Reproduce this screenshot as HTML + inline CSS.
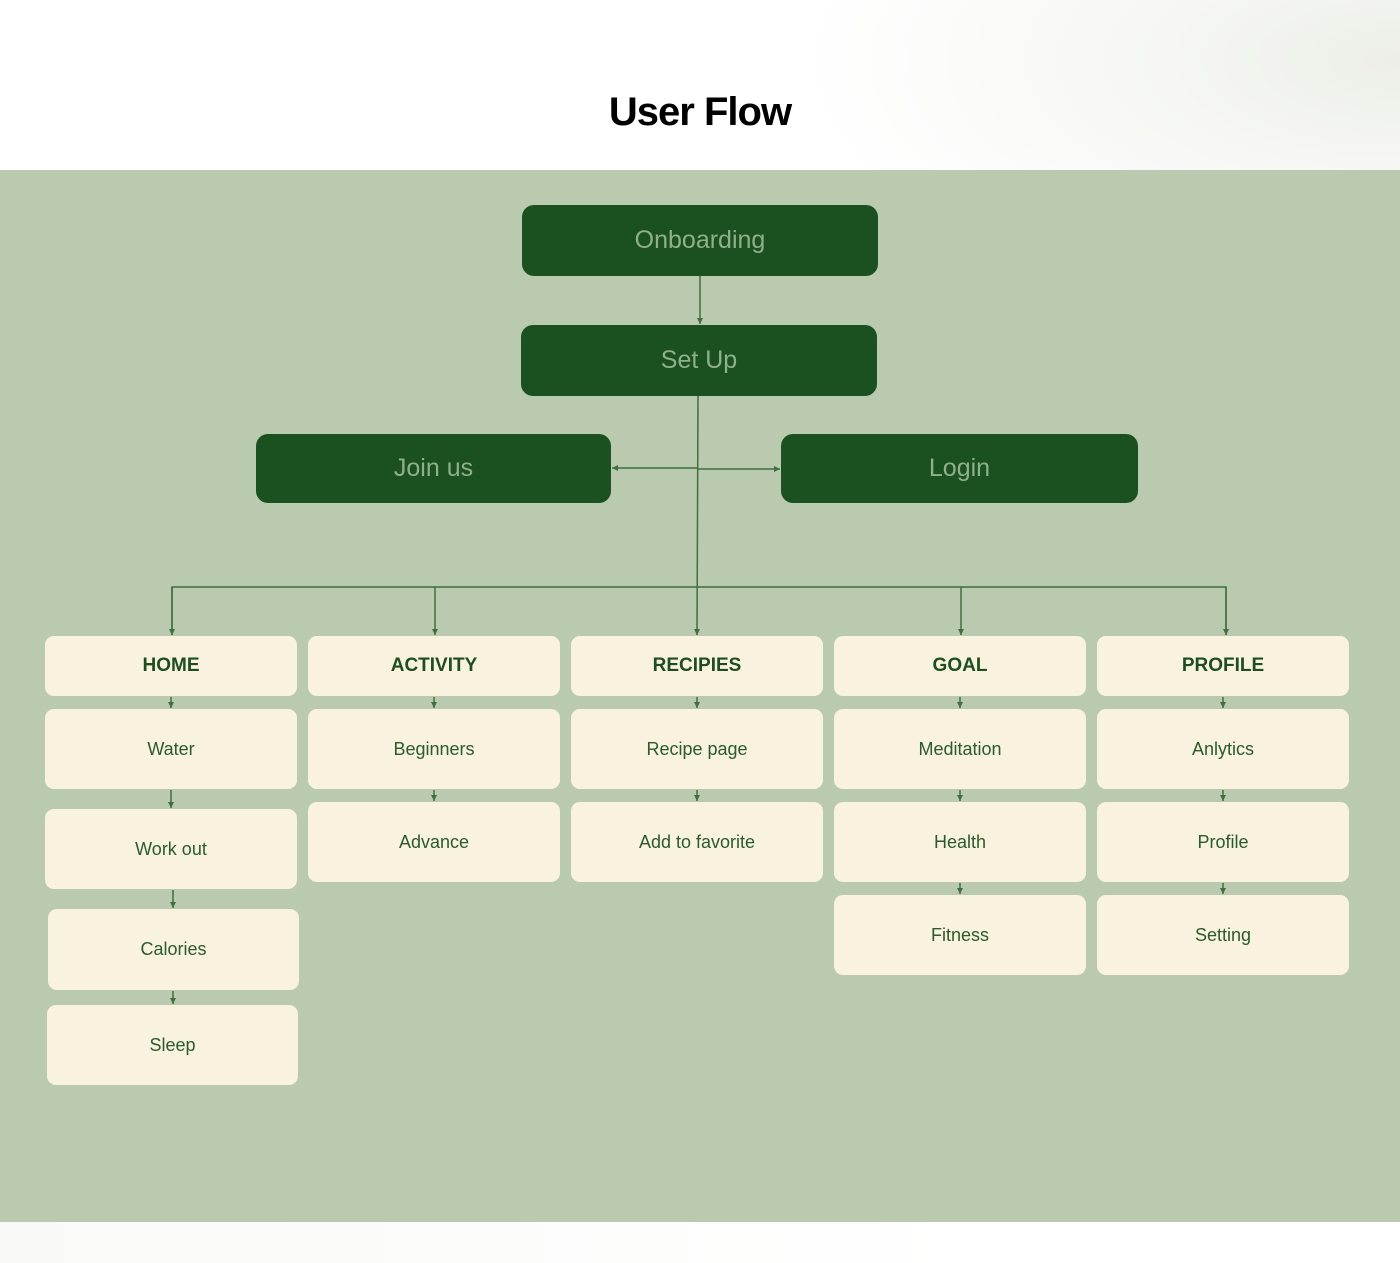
<!DOCTYPE html>
<html><head><style>
*{margin:0;padding:0;box-sizing:border-box}
body{width:1400px;height:1263px;position:relative;background:#fff;font-family:"Liberation Sans",sans-serif;overflow:hidden}
.top{position:absolute;left:0;top:0;width:1400px;height:170px;background:radial-gradient(ellipse 600px 260px at 1400px 60px,#eceee7 0%,#f6f7f3 40%,#fff 100%)}
.bot{position:absolute;left:0;top:1222px;width:1400px;height:41px;background:linear-gradient(90deg,#f9faf7,#fff 70%)}
h1{position:absolute;left:0;width:1400px;top:90px;text-align:center;font-size:40px;font-weight:bold;color:#000;letter-spacing:-1px}
.bg{position:absolute;left:0;top:170px;width:1400px;height:1052px;background:#bacaaf}
.d{position:absolute;background:#1b5121;border-radius:12px;color:#8fb08a;font-size:25px;display:flex;align-items:center;justify-content:center;font-weight:300}
.c{position:absolute;background:#f8f2de;border-radius:9px;color:#2b5a2c;font-size:18px;display:flex;align-items:center;justify-content:center}
.h{font-weight:bold;font-size:19px;color:#1e4d21}
svg{position:absolute;left:0;top:0}
</style></head><body>
<div class="top"></div>
<h1>User Flow</h1>
<div class="bg"></div>
<div class="bot"></div>
<svg width="1400" height="1263">
<defs><marker id="a" markerWidth="4" markerHeight="4" refX="4" refY="2" orient="auto"><path d="M0,0 L4,2 L0,4z" fill="#3f6e3f"/></marker></defs>
<g stroke="#3f6e3f" stroke-width="1.5" fill="none">
<line x1="700" y1="276" x2="700" y2="324" marker-end="url(#a)"/>
<line x1="698" y1="396" x2="697" y2="635" marker-end="url(#a)"/>
<line x1="698" y1="468" x2="612" y2="468" marker-end="url(#a)"/>
<line x1="698" y1="469" x2="780" y2="469" marker-end="url(#a)"/>
<polyline points="172,635 172,587 1226,587 1226,635"/>
<line x1="172" y1="587" x2="172" y2="635" marker-end="url(#a)"/>
<line x1="1226" y1="587" x2="1226" y2="635" marker-end="url(#a)"/>
<line x1="435" y1="587" x2="435" y2="635" marker-end="url(#a)"/>
<line x1="961" y1="587" x2="961" y2="635" marker-end="url(#a)"/>
<line x1="171" y1="697" x2="171" y2="708" marker-end="url(#a)"/>
<line x1="434" y1="697" x2="434" y2="708" marker-end="url(#a)"/>
<line x1="697" y1="697" x2="697" y2="708" marker-end="url(#a)"/>
<line x1="960" y1="697" x2="960" y2="708" marker-end="url(#a)"/>
<line x1="1223" y1="697" x2="1223" y2="708" marker-end="url(#a)"/>
<line x1="171" y1="790" x2="171" y2="808" marker-end="url(#a)"/>
<line x1="434" y1="790" x2="434" y2="801" marker-end="url(#a)"/>
<line x1="697" y1="790" x2="697" y2="801" marker-end="url(#a)"/>
<line x1="960" y1="790" x2="960" y2="801" marker-end="url(#a)"/>
<line x1="1223" y1="790" x2="1223" y2="801" marker-end="url(#a)"/>
<line x1="173" y1="890" x2="173" y2="908" marker-end="url(#a)"/>
<line x1="960" y1="883" x2="960" y2="894" marker-end="url(#a)"/>
<line x1="1223" y1="883" x2="1223" y2="894" marker-end="url(#a)"/>
<line x1="173" y1="991" x2="173" y2="1004" marker-end="url(#a)"/>
</g></svg>
<div class="d" style="left:522px;top:205px;width:356px;height:71px">Onboarding</div>
<div class="d" style="left:521px;top:325px;width:356px;height:71px">Set Up</div>
<div class="d" style="left:256px;top:434px;width:355px;height:69px">Join us</div>
<div class="d" style="left:781px;top:434px;width:357px;height:69px">Login</div>

<div class="c h" style="left:45px;top:636px;width:252px;height:60px">HOME</div>
<div class="c h" style="left:308px;top:636px;width:252px;height:60px">ACTIVITY</div>
<div class="c h" style="left:571px;top:636px;width:252px;height:60px">RECIPIES</div>
<div class="c h" style="left:834px;top:636px;width:252px;height:60px">GOAL</div>
<div class="c h" style="left:1097px;top:636px;width:252px;height:60px">PROFILE</div>

<div class="c" style="left:45px;top:709px;width:252px;height:80px">Water</div>
<div class="c" style="left:308px;top:709px;width:252px;height:80px">Beginners</div>
<div class="c" style="left:571px;top:709px;width:252px;height:80px">Recipe page</div>
<div class="c" style="left:834px;top:709px;width:252px;height:80px">Meditation</div>
<div class="c" style="left:1097px;top:709px;width:252px;height:80px">Anlytics</div>

<div class="c" style="left:45px;top:809px;width:252px;height:80px">Work out</div>
<div class="c" style="left:308px;top:802px;width:252px;height:80px">Advance</div>
<div class="c" style="left:571px;top:802px;width:252px;height:80px">Add to favorite</div>
<div class="c" style="left:834px;top:802px;width:252px;height:80px">Health</div>
<div class="c" style="left:1097px;top:802px;width:252px;height:80px">Profile</div>

<div class="c" style="left:48px;top:909px;width:251px;height:81px">Calories</div>
<div class="c" style="left:834px;top:895px;width:252px;height:80px">Fitness</div>
<div class="c" style="left:1097px;top:895px;width:252px;height:80px">Setting</div>
<div class="c" style="left:47px;top:1005px;width:251px;height:80px">Sleep</div>
</body></html>
